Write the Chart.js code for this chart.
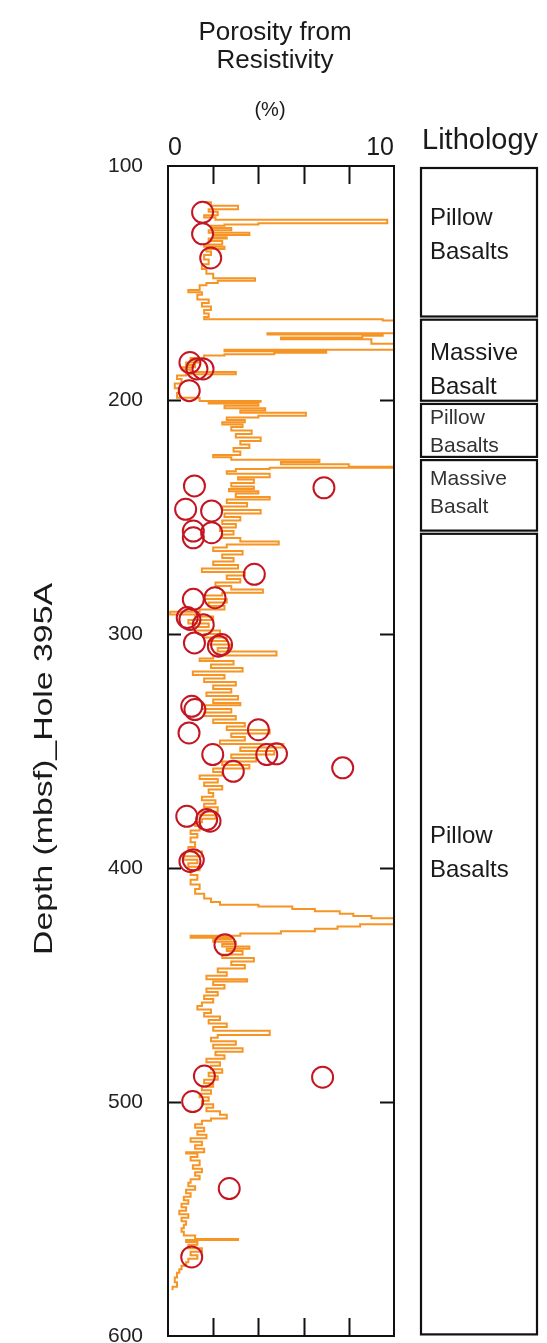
<!DOCTYPE html>
<html>
<head>
<meta charset="utf-8">
<script src="https://cdn.jsdelivr.net/npm/chart.js@4/dist/chart.umd.min.js"></script>
<style>
html,body{margin:0;padding:0;background:#fff;overflow:hidden;}
canvas{display:block;}
</style>
</head>
<body>
<canvas id="c" width="547" height="1343" style="width:547px;height:1343px"></canvas>
<script>
// ---- Data ----
const logDepth = [115.5,117,118.5,119.5,121,122,123,124.5,125,125.5,126.5,127.5,128.5,129.5,130.5,131,132,133.5,134.5,135.5,136.5,138,140,142,144,146,148,149,150,151,153,154,155,157,158.5,160,161.5,163,164.5,165.5,166,166.5,168,170,171.5,172,172.5,173.3,174,176,178.5,179.2,179.8,180.5,181,182,183,184,185,186,187,188,189,189.5,191,193,195,197,199,200.4,200.8,201.5,202.5,203.5,204.5,205.5,206.7,207.5,208.5,209.5,210.5,211.5,213,214.5,216,217.5,219,220.5,222,223.5,224.5,225.5,226.5,227.5,228.5,229,229.5,230.5,231.5,233,234,235.5,237,238,239,240,241.5,242.5,244,245.5,247,248.5,250,251.5,253,254.5,256,257.5,259,260.5,261.7,263,264.5,266,267.5,269,270.5,272,273.5,275,276.5,278,279.5,281,282.4,283.5,285,286.5,288,289.5,290.5,291.7,292.5,294,295.5,297,298.5,300,301.5,303,304.5,306,307.5,309.2,310.5,311.5,313,314.5,316,317.5,319,320.5,322,323.5,325,326.5,328,329.5,330.5,332,333.5,335,336.5,338,339.5,341,342.5,344,345.5,347,348.5,350,351.5,353,354.5,356,357.5,359,360.5,362,363.5,365,366.5,368,369.5,371,372.5,374,376,377.5,379,380.5,382,384,385.5,387,389,391,393,395,396.5,398,399.5,401,403,405,407,409,411,413,414.5,415.7,416.5,417.5,418.5,419.5,420.5,421.5,422.5,424,425,426,427,428,429,429.8,430.5,431.5,432.5,433.5,434.5,435.5,437,438.5,440,441.5,443,444.5,446,447.5,448.5,450,451.5,453,454.5,456,457.5,459,460.5,462,463.5,465,466.5,468,469.5,471.4,472.5,474,475.5,477,478.5,480,481.5,483,484.5,486,487.5,489,490.5,492,493.5,495,496.5,498,499.5,501,502.5,504,505.5,507,508,509.5,511,512.5,514,515.5,517,518.5,520,521.5,522,523.5,525,527,528.5,530,531.5,533,534.5,536,537.5,539,540.5,542,543.5,545,546.5,548,549.5,551,552.5,554,555.5,557,558.5,559,559.8,561,562.5,564,565.5,567,568.5,570,571.5,573,575,577,579,580.5];
const logPorosity = [1.6,1.9,3.1,1.8,2.2,1.6,2.1,9.7,4,2.5,1.9,2.8,1.8,3.6,2.0,2.6,1.8,2.4,1.6,2.5,1.7,1.9,1.6,1.8,1.5,1.7,2.0,3.85,2.2,1.7,1.4,0.9,1.5,1.3,1.8,1.5,1.9,1.6,1.8,1.6,9.5,10.3,10.2,10.3,10.3,4.4,9.5,8.6,5,9,10.3,2.5,7,4.7,2.5,1.6,1.0,1.4,0.8,1.2,0.6,1.0,3.0,0.8,0.4,0.6,0.3,0.5,0.4,1.4,4.1,1.8,4.0,2.5,4.3,3.2,6.1,4.0,2.6,3.4,2.4,3.3,2.8,3.7,3.0,4.1,3.2,3.6,2.9,3.2,2.0,2.8,6.7,5.0,8,10.3,4.5,3.0,2.6,4.5,3.1,3.8,2.8,3.8,2.7,4.0,3.0,4.5,2.6,3.5,2.4,4.1,2.5,3.2,2.4,3.0,2.3,2.9,2.4,3.2,4.9,2.6,2.0,3.3,2.4,2.9,2.0,3.1,1.5,3.4,2.6,3.2,2.1,2.8,4.2,2.4,1.6,2.6,1.8,2.5,1.4,0.1,1.2,2.0,0.9,1.8,1.2,2.3,1.6,2.6,1.8,2.8,2.2,4.8,2.0,1.4,2.9,1.9,3.3,1.1,2.5,1.6,3.0,2.0,2.8,1.7,3.1,2.0,3.2,1.5,2.8,1.6,3.0,2.0,3.4,2.6,4.5,2.8,3.4,2.3,5.1,3.2,4.7,2.8,3.9,2.4,3.6,2.0,2.4,1.4,2.2,1.6,2.4,1.8,2.0,1.5,2.1,1.6,2.2,1.4,2.1,1.5,1.2,1.4,1.0,1.3,1.0,1.2,0.9,1.5,0.7,1.3,0.9,1.4,1.0,1.3,1.0,1.4,1.2,1.6,1.9,2.3,4.0,5.5,6.5,7.6,8.2,9.0,10.3,10.3,8.5,7.5,6.5,5.0,3.2,1.0,2.8,2.0,3.0,2.4,3.6,2.6,3.3,2.4,3.8,2.8,3.4,2.2,2.6,1.7,3.5,2.0,2.5,1.7,2.2,1.6,2.0,1.5,1.3,1.9,1.6,2.3,1.8,2.6,2.0,4.5,2.2,1.9,3.0,2.0,3.3,2.1,2.5,1.7,2.3,1.9,2.4,1.8,2.2,1.6,2.0,1.5,1.9,1.4,1.8,1.5,2.0,1.7,2.3,2.6,1.9,1.5,1.2,1.6,1.3,1.7,1.0,1.5,1.2,1.6,0.8,1.3,1.0,1.4,1.1,1.5,1.2,1.4,1.0,0.9,1.2,0.8,1.0,0.7,0.9,0.6,0.8,0.5,0.9,0.6,0.8,0.7,0.6,0.7,1.2,3.1,0.8,1.3,0.9,1.5,1.0,1.3,0.9,0.8,0.6,0.5,0.4,0.3,0.4,0.2];

const coreDepth = [119.8,129.0,139.3,184.0,186.7,186.7,196.0,236.7,237.5,246.7,247.4,256.0,256.7,258.9,274.5,285.2,284.5,293.0,293.8,296.0,303.8,305.2,304.5,330.9,332.3,340.9,342.3,351.5,351.5,351.2,357.2,358.7,377.9,379.3,380.0,396.5,397.2,432.8,488.9,489.4,499.8,537.0,566.2];
const corePorosity = [1.53,1.53,1.89,0.97,1.28,1.55,0.94,1.17,6.9,0.78,1.93,1.12,1.93,1.12,3.82,1.12,2.08,0.85,0.97,1.56,1.17,2.23,2.37,1.05,1.19,4.0,0.93,1.98,4.37,4.8,7.73,2.89,0.83,1.71,1.86,1.12,0.97,2.52,1.61,6.84,1.09,2.71,1.05];

const depthTicks = [100,200,300,400,500,600];
const porosityTicks = [0,2,4,6,8,10];
const porosityLabels = ['0','','','','','10'];

const lithTop = [100,165,201,225,256.5];
const lithBottom = [165,201,225,256.5,600];
const lithName1 = ['Pillow','Massive','Pillow','Massive','Pillow'];
const lithName2 = ['Basalts','Basalt','Basalts','Basalt','Basalts'];
const lithLabelDepth = [129.5,187.5,213.6,239.7,393.7];

// ---- Styles / layout ----
const FONT = "'Liberation Sans', Arial, Helvetica, sans-serif";
Chart.defaults.font.family = FONT;
const INK = '#1a1a1a';

const logData = logDepth.map((d,i)=>({x:logPorosity[i], y:d}));
const coreData = coreDepth.map((d,i)=>({x:corePorosity[i], y:d}));

const decor = {
  id:'decor',
  beforeDraw(chart){
    const ctx = chart.ctx;
    ctx.save();
    ctx.fillStyle = '#fff';
    ctx.fillRect(0,0,chart.width,chart.height);
    ctx.restore();
  },
  afterDatasetsDraw(chart){
    const ctx = chart.ctx, a = chart.chartArea;
    const xs = chart.scales.x, ys = chart.scales.y;
    ctx.save();
    ctx.strokeStyle = '#111';
    ctx.lineWidth = 2;
    ctx.strokeRect(a.left, a.top, a.right-a.left, a.bottom-a.top);
    ctx.beginPath();
    porosityTicks.forEach(v=>{
      if (v<=xs.min || v>=xs.max) return;
      const px = Math.round(xs.getPixelForValue(v))+0.5;
      ctx.moveTo(px, a.top); ctx.lineTo(px, a.top+18);
      ctx.moveTo(px, a.bottom); ctx.lineTo(px, a.bottom-18);
    });
    depthTicks.forEach(v=>{
      if (v<=ys.min || v>=ys.max) return;
      const py = Math.round(ys.getPixelForValue(v))+0.5;
      ctx.moveTo(a.left, py); ctx.lineTo(a.left+13, py);
      ctx.moveTo(a.right, py); ctx.lineTo(a.right-14, py);
    });
    ctx.stroke();

    ctx.fillStyle = INK;
    ctx.textAlign = 'center';
    ctx.textBaseline = 'middle';
    ctx.font = '26px ' + FONT;
    ctx.fillText('Porosity from', 275, 33);
    ctx.fillText('Resistivity', 275, 61);
    ctx.font = '20px ' + FONT;
    ctx.fillText('(%)', 270, 110);

    ctx.textAlign = 'left';
    ctx.font = '29px ' + FONT;
    ctx.fillText('Lithology', 422, 141);

    ctx.save();
    ctx.translate(45, 769);
    ctx.rotate(-Math.PI/2);
    ctx.scale(1.3, 1);
    ctx.textAlign = 'center';
    ctx.font = '26px ' + FONT;
    ctx.fillText('Depth (mbsf)_Hole 395A', 0, 0);
    ctx.restore();

    const lx0 = 421, lx1 = 537;
    ctx.strokeStyle = '#111';
    ctx.lineWidth = 2.2;
    for (let i=0;i<lithTop.length;i++){
      const y0 = ys.getPixelForValue(lithTop[i]) + (i===0 ? 2 : 1.6);
      const y1 = ys.getPixelForValue(lithBottom[i]) - 1.6;
      ctx.strokeRect(lx0, y0, lx1-lx0, y1-y0);
      const small = (i===2 || i===3);
      ctx.font = (small ? '21px ' : '24px ') + FONT;
      ctx.fillStyle = small ? '#333' : INK;
      const yc = ys.getPixelForValue(lithLabelDepth[i]);
      const gap = small ? 14 : 17;
      ctx.textAlign = 'left';
      ctx.textBaseline = 'middle';
      ctx.fillText(lithName1[i], 430, yc-gap);
      ctx.fillText(lithName2[i], 430, yc+gap);
    }
    ctx.restore();
  }
};

new Chart(document.getElementById('c'), {
  type:'scatter',
  data:{
    datasets:[
      {
        label:'Core porosity',
        data: coreData,
        showLine:false,
        pointStyle:'circle',
        pointRadius:10.5,
        pointHoverRadius:10.5,
        pointBorderWidth:2,
        borderColor:'rgb(196,22,34)',
        backgroundColor:'rgba(0,0,0,0)',
        pointBackgroundColor:'rgba(0,0,0,0)',
        pointBorderColor:'rgb(196,22,34)',
        clip:false
      },
      {
        label:'Porosity from Resistivity',
        data: logData,
        showLine:true,
        stepped:true,
        pointRadius:0,
        pointHoverRadius:0,
        borderColor:'rgb(246,148,36)',
        borderWidth:2,
        tension:0,
        fill:false
      }
    ]
  },
  options:{
    responsive:false,
    animation:false,
    events:[],
    layout:{autoPadding:false, padding:{left:0,top:0,right:153,bottom:7}},
    plugins:{legend:{display:false}, tooltip:{enabled:false}},
    scales:{
      x:{
        type:'linear',
        position:'top',
        min:0, max:10,
        afterBuildTicks(scale){ scale.ticks = porosityTicks.map(v=>({value:v})); },
        afterFit(scale){ scale.height = 166; scale.paddingLeft = 0; scale.paddingRight = 0; },
        grid:{display:false, drawTicks:false},
        border:{display:false},
        ticks:{
          autoSkip:false, maxRotation:0, align:'inner', padding:3,
          color:INK, font:{size:25},
          callback(v){ const i = porosityTicks.indexOf(v); return i>=0 ? porosityLabels[i] : ''; }
        }
      },
      y:{
        type:'linear',
        position:'left',
        reverse:true,
        min:100, max:600,
        afterBuildTicks(scale){ scale.ticks = depthTicks.map(v=>({value:v})); },
        afterFit(scale){ scale.width = 168; scale.paddingTop = 0; scale.paddingBottom = 0; },
        grid:{display:false, drawTicks:false},
        border:{display:false},
        ticks:{autoSkip:false, padding:25, color:'#222', font:{size:21}}
      }
    }
  },
  plugins:[decor]
});
</script>
</body>
</html>
